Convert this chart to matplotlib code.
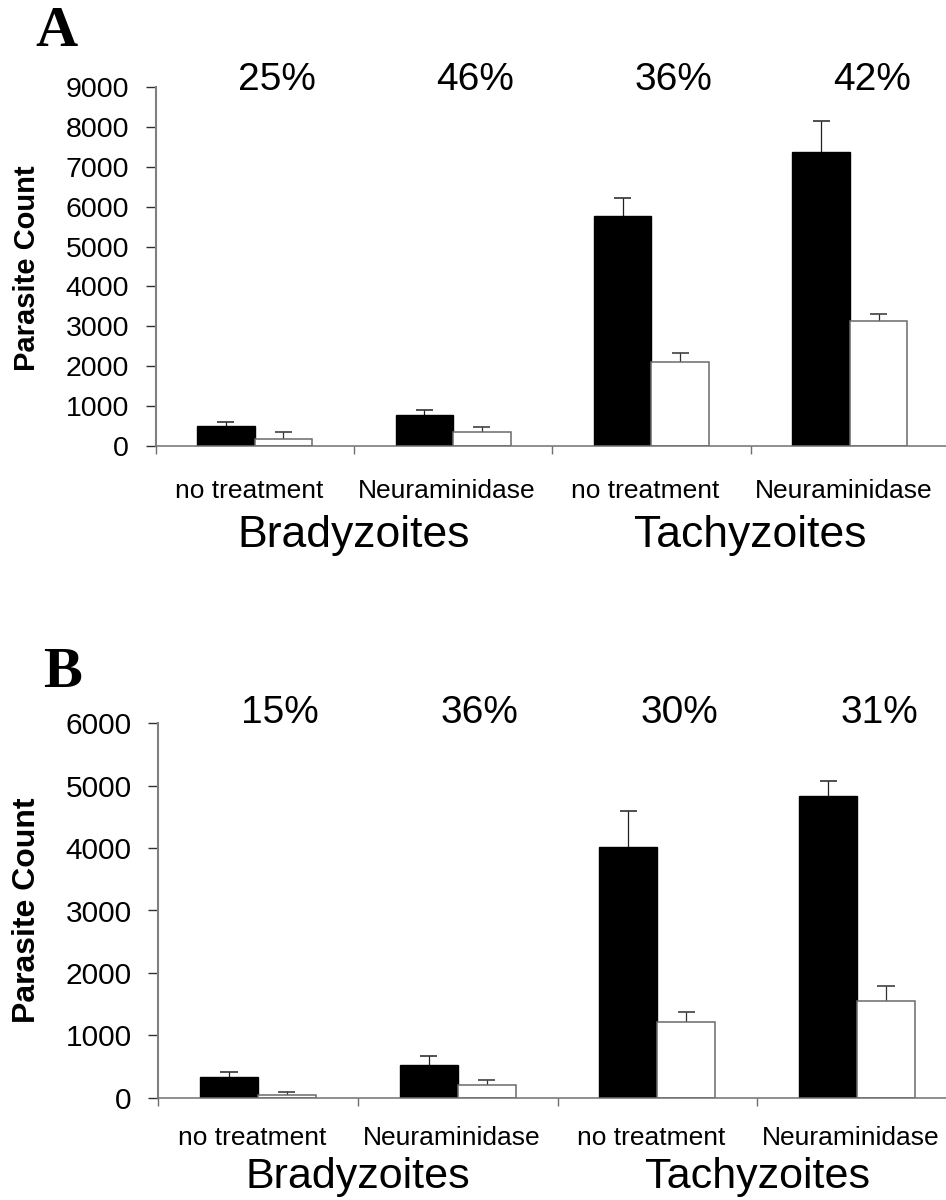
import numpy as np
import matplotlib
matplotlib.use("Agg")
import matplotlib.pyplot as plt

plt.rcParams['font.family'] = ['Liberation Sans', 'DejaVu Sans']

# categories
treatments = ["no treatment", "Neuraminidase", "no treatment", "Neuraminidase"]
stages = ["Bradyzoites", "Tachyzoites"]

# panel A values (black = total, white = second count)
a_black = [495, 780, 5760, 7380]
a_black_err = [108, 107, 463, 770]
a_white = [180, 355, 2100, 3120]
a_white_err = [170, 116, 232, 175]
a_pct = ["25%", "46%", "36%", "42%"]

# panel B values
b_black = [325, 520, 4020, 4830]
b_black_err = [78, 154, 570, 242]
b_white = [48, 196, 1218, 1545]
b_white_err = [35, 92, 160, 240]
b_pct = ["15%", "36%", "30%", "31%"]

W, H = 946, 1200
fig = plt.figure(figsize=(W / 100, H / 100), dpi=100)


def px(x0, y0, x1, y1):
    # pixel box -> figure fraction [left, bottom, width, height]
    return [x0 / W, 1 - y1 / H, (x1 - x0) / W, (y1 - y0) / H]


def upper_err(ax, xs, vals, errs, color):
    # only the upper half of the error bar, cap on top
    tops = np.array(vals) + np.array(errs)
    ax.vlines(xs, vals, tops, color=color, linewidth=0.9, zorder=1)
    ax.hlines(tops, xs - 0.043, xs + 0.043, color=color, linewidth=1.1, zorder=1)


def panel(ax, black, black_err, white, white_err, pct, ymax, tick_fs,
          cat_off, grp_off, grp_fs, pct_off):
    x = np.arange(len(black)) + 0.5
    w = 0.29
    upper_err(ax, x - w / 2, black, black_err, "#202020")
    upper_err(ax, x + w / 2, white, white_err, "#303030")
    ax.bar(x - w / 2, black, width=w, color="black", edgecolor="black", linewidth=1, zorder=2)
    ax.bar(x + w / 2, white, width=w, color="white", edgecolor="#6a6a6a", linewidth=1.1, zorder=2)

    ax.set_xlim(0, 4)
    ax.set_ylim(0, ymax)
    ax.set_yticks(np.arange(0, ymax + 1, 1000))
    ax.set_xticks(range(5))
    ax.set_xticklabels([])
    ax.tick_params(axis="y", labelsize=tick_fs, length=7, width=1, color="#303030", pad=12)
    ax.tick_params(axis="x", length=6, width=1, color="#707070")

    for s in ["top", "right"]:
        ax.spines[s].set_visible(False)
    ax.spines["left"].set_color("#808080")
    ax.spines["left"].set_linewidth(1.5)
    ax.spines["bottom"].set_color("#707070")
    ax.spines["bottom"].set_linewidth(1.1)

    for xi, lab in zip(x, treatments):
        ax.annotate(lab, xy=(xi - 0.03, 0), xycoords=("data", "axes fraction"),
                    xytext=(0, -cat_off), textcoords="offset pixels",
                    ha="center", va="baseline", fontsize=19)
    for i, lab in enumerate(stages):
        ax.annotate(lab, xy=(2 * i + 1, 0), xycoords=("data", "axes fraction"),
                    xytext=(0, -grp_off), textcoords="offset pixels",
                    ha="center", va="baseline", fontsize=grp_fs)
    for xi, lab in zip(x, pct):
        ax.annotate(lab, xy=(xi + 0.11, 1), xycoords=("data", "axes fraction"),
                    xytext=(0, pct_off), textcoords="offset pixels",
                    ha="center", va="baseline", fontsize=28)


axA = fig.add_axes(px(155.5, 87.3, 949, 445.7))
panel(axA, a_black, a_black_err, a_white, a_white_err, a_pct, 9000, 20.5,
      52, 101, 32, -3)
fig.text(27 / W, 1 - 268 / H, "Parasite Count", rotation=90, ha="center",
         va="center", fontsize=21, fontweight="bold")
fig.text(35 / W, 1 - 46 / H, "A", fontsize=42, fontweight="bold",
         family="Liberation Serif", ha="left", va="baseline")

axB = fig.add_axes(px(158, 723.4, 957, 1097.6))
panel(axB, b_black, b_black_err, b_white, b_white_err, b_pct, 6000, 21.5,
      47, 90, 31, 0)
fig.text(27 / W, 1 - 910.5 / H, "Parasite Count", rotation=90, ha="center",
         va="center", fontsize=23, fontweight="bold")
fig.text(43 / W, 1 - 687 / H, "B", fontsize=42, fontweight="bold",
         family="Liberation Serif", ha="left", va="baseline")

fig.savefig("out.png", dpi=100, facecolor="white")
